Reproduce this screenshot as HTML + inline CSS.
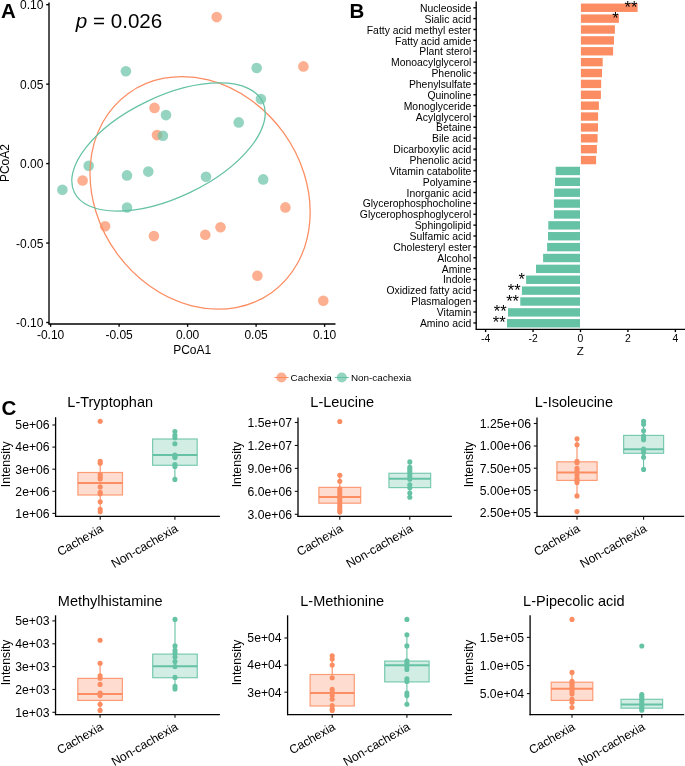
<!DOCTYPE html>
<html><head><meta charset="utf-8"><style>
html,body{margin:0;padding:0;background:#fff;}
svg{display:block;font-family:"Liberation Sans", sans-serif;will-change:transform;}
</style></head><body>
<svg width="685" height="766" viewBox="0 0 685 766">
<rect width="685" height="766" fill="#fff"/>
<text x="1.00" y="18.30" font-size="20.5" text-anchor="start" font-weight="bold" font-style="normal" fill="#000">A</text>
<circle cx="216.70" cy="17.10" r="5.3" fill="#FC8D62" fill-opacity="0.7"/>
<circle cx="303.40" cy="66.40" r="5.3" fill="#FC8D62" fill-opacity="0.7"/>
<circle cx="154.50" cy="107.90" r="5.3" fill="#FC8D62" fill-opacity="0.7"/>
<circle cx="157.00" cy="135.10" r="5.3" fill="#FC8D62" fill-opacity="0.7"/>
<circle cx="82.60" cy="180.50" r="5.3" fill="#FC8D62" fill-opacity="0.7"/>
<circle cx="285.40" cy="207.40" r="5.3" fill="#FC8D62" fill-opacity="0.7"/>
<circle cx="105.10" cy="226.30" r="5.3" fill="#FC8D62" fill-opacity="0.7"/>
<circle cx="153.90" cy="236.10" r="5.3" fill="#FC8D62" fill-opacity="0.7"/>
<circle cx="220.50" cy="227.30" r="5.3" fill="#FC8D62" fill-opacity="0.7"/>
<circle cx="205.30" cy="234.70" r="5.3" fill="#FC8D62" fill-opacity="0.7"/>
<circle cx="257.40" cy="275.80" r="5.3" fill="#FC8D62" fill-opacity="0.7"/>
<circle cx="323.30" cy="300.80" r="5.3" fill="#FC8D62" fill-opacity="0.7"/>
<circle cx="125.90" cy="71.30" r="5.3" fill="#66C2A5" fill-opacity="0.7"/>
<circle cx="256.70" cy="68.00" r="5.3" fill="#66C2A5" fill-opacity="0.7"/>
<circle cx="260.90" cy="99.10" r="5.3" fill="#66C2A5" fill-opacity="0.7"/>
<circle cx="166.00" cy="115.10" r="5.3" fill="#66C2A5" fill-opacity="0.7"/>
<circle cx="162.90" cy="135.70" r="5.3" fill="#66C2A5" fill-opacity="0.7"/>
<circle cx="238.70" cy="122.40" r="5.3" fill="#66C2A5" fill-opacity="0.7"/>
<circle cx="88.70" cy="165.80" r="5.3" fill="#66C2A5" fill-opacity="0.7"/>
<circle cx="62.40" cy="189.70" r="5.3" fill="#66C2A5" fill-opacity="0.7"/>
<circle cx="127.00" cy="175.40" r="5.3" fill="#66C2A5" fill-opacity="0.7"/>
<circle cx="148.30" cy="171.60" r="5.3" fill="#66C2A5" fill-opacity="0.7"/>
<circle cx="127.00" cy="207.50" r="5.3" fill="#66C2A5" fill-opacity="0.7"/>
<circle cx="206.00" cy="176.80" r="5.3" fill="#66C2A5" fill-opacity="0.7"/>
<circle cx="263.20" cy="179.40" r="5.3" fill="#66C2A5" fill-opacity="0.7"/>
<ellipse cx="200.09" cy="192.89" rx="122.69" ry="102.88" transform="rotate(54.19 200.09 192.89)" fill="none" stroke="#FC8D62" stroke-width="1.25"/>
<ellipse cx="168.5" cy="147.02" rx="104.5" ry="50.34" transform="rotate(-25.61 168.5 147.02)" fill="none" stroke="#66C2A5" stroke-width="1.25"/>
<line x1="49.00" y1="2.60" x2="49.00" y2="324.50" stroke="#000" stroke-width="1.35" />
<line x1="48.50" y1="324.00" x2="335.50" y2="324.00" stroke="#000" stroke-width="1.35" />
<line x1="46.20" y1="4.70" x2="49.00" y2="4.70" stroke="#000" stroke-width="1.35" />
<text x="43.40" y="9.40" font-size="12" text-anchor="end" font-weight="normal" font-style="normal" fill="#000">0.10</text>
<line x1="46.20" y1="84.15" x2="49.00" y2="84.15" stroke="#000" stroke-width="1.35" />
<text x="43.40" y="88.85" font-size="12" text-anchor="end" font-weight="normal" font-style="normal" fill="#000">0.05</text>
<line x1="46.20" y1="163.60" x2="49.00" y2="163.60" stroke="#000" stroke-width="1.35" />
<text x="43.40" y="168.30" font-size="12" text-anchor="end" font-weight="normal" font-style="normal" fill="#000">0.00</text>
<line x1="46.20" y1="243.05" x2="49.00" y2="243.05" stroke="#000" stroke-width="1.35" />
<text x="43.40" y="247.75" font-size="12" text-anchor="end" font-weight="normal" font-style="normal" fill="#000">-0.05</text>
<line x1="46.20" y1="322.50" x2="49.00" y2="322.50" stroke="#000" stroke-width="1.35" />
<text x="43.40" y="327.20" font-size="12" text-anchor="end" font-weight="normal" font-style="normal" fill="#000">-0.10</text>
<line x1="50.60" y1="324.00" x2="50.60" y2="326.80" stroke="#000" stroke-width="1.35" />
<text x="50.60" y="339.00" font-size="12" text-anchor="middle" font-weight="normal" font-style="normal" fill="#000">-0.10</text>
<line x1="119.10" y1="324.00" x2="119.10" y2="326.80" stroke="#000" stroke-width="1.35" />
<text x="119.10" y="339.00" font-size="12" text-anchor="middle" font-weight="normal" font-style="normal" fill="#000">-0.05</text>
<line x1="187.60" y1="324.00" x2="187.60" y2="326.80" stroke="#000" stroke-width="1.35" />
<text x="187.60" y="339.00" font-size="12" text-anchor="middle" font-weight="normal" font-style="normal" fill="#000">0.00</text>
<line x1="256.10" y1="324.00" x2="256.10" y2="326.80" stroke="#000" stroke-width="1.35" />
<text x="256.10" y="339.00" font-size="12" text-anchor="middle" font-weight="normal" font-style="normal" fill="#000">0.05</text>
<line x1="324.60" y1="324.00" x2="324.60" y2="326.80" stroke="#000" stroke-width="1.35" />
<text x="324.60" y="339.00" font-size="12" text-anchor="middle" font-weight="normal" font-style="normal" fill="#000">0.10</text>
<text x="192.20" y="354.30" font-size="12" text-anchor="middle" font-weight="normal" font-style="normal" fill="#000">PCoA1</text>
<text x="9.20" y="163.05" font-size="12" text-anchor="middle" font-weight="normal" font-style="normal" fill="#000" transform="rotate(-90 9.2 163.05)">PCoA2</text>
<text x="75.8" y="27.9" font-size="20.6" fill="#000"><tspan font-style="italic">p</tspan> = 0.026</text>
<text x="349.60" y="18.00" font-size="20.5" text-anchor="start" font-weight="bold" font-style="normal" fill="#000">B</text>
<rect x="580.9" y="3.55" width="56.70" height="8.4" fill="#FC8D62"/>
<line x1="473.40" y1="7.75" x2="476.20" y2="7.75" stroke="#000" stroke-width="1.35" />
<text x="471.30" y="12.05" font-size="10.4" text-anchor="end" font-weight="normal" font-style="normal" fill="#000">Nucleoside</text>
<text x="637.40" y="12.75" font-size="16.5" text-anchor="end" font-weight="normal" font-style="normal" fill="#000">**</text>
<rect x="580.9" y="14.43" width="38.00" height="8.4" fill="#FC8D62"/>
<line x1="473.40" y1="18.62" x2="476.20" y2="18.62" stroke="#000" stroke-width="1.35" />
<text x="471.30" y="22.91" font-size="10.4" text-anchor="end" font-weight="normal" font-style="normal" fill="#000">Sialic acid</text>
<text x="618.70" y="23.63" font-size="16.5" text-anchor="end" font-weight="normal" font-style="normal" fill="#000">*</text>
<rect x="580.9" y="25.31" width="34.00" height="8.4" fill="#FC8D62"/>
<line x1="473.40" y1="29.49" x2="476.20" y2="29.49" stroke="#000" stroke-width="1.35" />
<text x="471.30" y="33.76" font-size="10.4" text-anchor="end" font-weight="normal" font-style="normal" fill="#000">Fatty acid methyl ester</text>
<rect x="580.9" y="36.19" width="33.10" height="8.4" fill="#FC8D62"/>
<line x1="473.40" y1="40.36" x2="476.20" y2="40.36" stroke="#000" stroke-width="1.35" />
<text x="471.30" y="44.62" font-size="10.4" text-anchor="end" font-weight="normal" font-style="normal" fill="#000">Fatty acid amide</text>
<rect x="580.9" y="47.07" width="32.20" height="8.4" fill="#FC8D62"/>
<line x1="473.40" y1="51.23" x2="476.20" y2="51.23" stroke="#000" stroke-width="1.35" />
<text x="471.30" y="55.47" font-size="10.4" text-anchor="end" font-weight="normal" font-style="normal" fill="#000">Plant sterol</text>
<rect x="580.9" y="57.95" width="21.80" height="8.4" fill="#FC8D62"/>
<line x1="473.40" y1="62.10" x2="476.20" y2="62.10" stroke="#000" stroke-width="1.35" />
<text x="471.30" y="66.33" font-size="10.4" text-anchor="end" font-weight="normal" font-style="normal" fill="#000">Monoacylglycerol</text>
<rect x="580.9" y="68.83" width="21.10" height="8.4" fill="#FC8D62"/>
<line x1="473.40" y1="72.97" x2="476.20" y2="72.97" stroke="#000" stroke-width="1.35" />
<text x="471.30" y="77.19" font-size="10.4" text-anchor="end" font-weight="normal" font-style="normal" fill="#000">Phenolic</text>
<rect x="580.9" y="79.71" width="20.30" height="8.4" fill="#FC8D62"/>
<line x1="473.40" y1="83.84" x2="476.20" y2="83.84" stroke="#000" stroke-width="1.35" />
<text x="471.30" y="88.04" font-size="10.4" text-anchor="end" font-weight="normal" font-style="normal" fill="#000">Phenylsulfate</text>
<rect x="580.9" y="90.59" width="20.00" height="8.4" fill="#FC8D62"/>
<line x1="473.40" y1="94.71" x2="476.20" y2="94.71" stroke="#000" stroke-width="1.35" />
<text x="471.30" y="98.90" font-size="10.4" text-anchor="end" font-weight="normal" font-style="normal" fill="#000">Quinoline</text>
<rect x="580.9" y="101.47" width="18.00" height="8.4" fill="#FC8D62"/>
<line x1="473.40" y1="105.58" x2="476.20" y2="105.58" stroke="#000" stroke-width="1.35" />
<text x="471.30" y="109.75" font-size="10.4" text-anchor="end" font-weight="normal" font-style="normal" fill="#000">Monoglyceride</text>
<rect x="580.9" y="112.35" width="17.20" height="8.4" fill="#FC8D62"/>
<line x1="473.40" y1="116.45" x2="476.20" y2="116.45" stroke="#000" stroke-width="1.35" />
<text x="471.30" y="120.61" font-size="10.4" text-anchor="end" font-weight="normal" font-style="normal" fill="#000">Acylglycerol</text>
<rect x="580.9" y="123.23" width="17.10" height="8.4" fill="#FC8D62"/>
<line x1="473.40" y1="127.32" x2="476.20" y2="127.32" stroke="#000" stroke-width="1.35" />
<text x="471.30" y="131.46" font-size="10.4" text-anchor="end" font-weight="normal" font-style="normal" fill="#000">Betaine</text>
<rect x="580.9" y="134.11" width="16.70" height="8.4" fill="#FC8D62"/>
<line x1="473.40" y1="138.19" x2="476.20" y2="138.19" stroke="#000" stroke-width="1.35" />
<text x="471.30" y="142.32" font-size="10.4" text-anchor="end" font-weight="normal" font-style="normal" fill="#000">Bile acid</text>
<rect x="580.9" y="144.99" width="16.00" height="8.4" fill="#FC8D62"/>
<line x1="473.40" y1="149.06" x2="476.20" y2="149.06" stroke="#000" stroke-width="1.35" />
<text x="471.30" y="153.18" font-size="10.4" text-anchor="end" font-weight="normal" font-style="normal" fill="#000">Dicarboxylic acid</text>
<rect x="580.9" y="155.87" width="15.20" height="8.4" fill="#FC8D62"/>
<line x1="473.40" y1="159.93" x2="476.20" y2="159.93" stroke="#000" stroke-width="1.35" />
<text x="471.30" y="164.03" font-size="10.4" text-anchor="end" font-weight="normal" font-style="normal" fill="#000">Phenolic acid</text>
<rect x="555.70" y="166.75" width="24.30" height="8.4" fill="#66C2A5"/>
<line x1="473.40" y1="170.79" x2="476.20" y2="170.79" stroke="#000" stroke-width="1.35" />
<text x="471.30" y="174.89" font-size="10.4" text-anchor="end" font-weight="normal" font-style="normal" fill="#000">Vitamin catabolite</text>
<rect x="555.00" y="177.63" width="25.00" height="8.4" fill="#66C2A5"/>
<line x1="473.40" y1="181.66" x2="476.20" y2="181.66" stroke="#000" stroke-width="1.35" />
<text x="471.30" y="185.74" font-size="10.4" text-anchor="end" font-weight="normal" font-style="normal" fill="#000">Polyamine</text>
<rect x="554.10" y="188.51" width="25.90" height="8.4" fill="#66C2A5"/>
<line x1="473.40" y1="192.53" x2="476.20" y2="192.53" stroke="#000" stroke-width="1.35" />
<text x="471.30" y="196.60" font-size="10.4" text-anchor="end" font-weight="normal" font-style="normal" fill="#000">Inorganic acid</text>
<rect x="553.90" y="199.39" width="26.10" height="8.4" fill="#66C2A5"/>
<line x1="473.40" y1="203.40" x2="476.20" y2="203.40" stroke="#000" stroke-width="1.35" />
<text x="471.30" y="207.46" font-size="10.4" text-anchor="end" font-weight="normal" font-style="normal" fill="#000">Glycerophosphocholine</text>
<rect x="553.90" y="210.27" width="26.10" height="8.4" fill="#66C2A5"/>
<line x1="473.40" y1="214.27" x2="476.20" y2="214.27" stroke="#000" stroke-width="1.35" />
<text x="471.30" y="218.31" font-size="10.4" text-anchor="end" font-weight="normal" font-style="normal" fill="#000">Glycerophosphoglycerol</text>
<rect x="548.30" y="221.15" width="31.70" height="8.4" fill="#66C2A5"/>
<line x1="473.40" y1="225.14" x2="476.20" y2="225.14" stroke="#000" stroke-width="1.35" />
<text x="471.30" y="229.17" font-size="10.4" text-anchor="end" font-weight="normal" font-style="normal" fill="#000">Sphingolipid</text>
<rect x="548.00" y="232.03" width="32.00" height="8.4" fill="#66C2A5"/>
<line x1="473.40" y1="236.01" x2="476.20" y2="236.01" stroke="#000" stroke-width="1.35" />
<text x="471.30" y="240.02" font-size="10.4" text-anchor="end" font-weight="normal" font-style="normal" fill="#000">Sulfamic acid</text>
<rect x="547.10" y="242.91" width="32.90" height="8.4" fill="#66C2A5"/>
<line x1="473.40" y1="246.88" x2="476.20" y2="246.88" stroke="#000" stroke-width="1.35" />
<text x="471.30" y="250.88" font-size="10.4" text-anchor="end" font-weight="normal" font-style="normal" fill="#000">Cholesteryl ester</text>
<rect x="543.10" y="253.79" width="36.90" height="8.4" fill="#66C2A5"/>
<line x1="473.40" y1="257.75" x2="476.20" y2="257.75" stroke="#000" stroke-width="1.35" />
<text x="471.30" y="261.73" font-size="10.4" text-anchor="end" font-weight="normal" font-style="normal" fill="#000">Alcohol</text>
<rect x="536.00" y="264.67" width="44.00" height="8.4" fill="#66C2A5"/>
<line x1="473.40" y1="268.62" x2="476.20" y2="268.62" stroke="#000" stroke-width="1.35" />
<text x="471.30" y="272.59" font-size="10.4" text-anchor="end" font-weight="normal" font-style="normal" fill="#000">Amine</text>
<rect x="526.10" y="275.55" width="53.90" height="8.4" fill="#66C2A5"/>
<line x1="473.40" y1="279.49" x2="476.20" y2="279.49" stroke="#000" stroke-width="1.35" />
<text x="471.30" y="283.45" font-size="10.4" text-anchor="end" font-weight="normal" font-style="normal" fill="#000">Indole</text>
<text x="524.80" y="284.75" font-size="16.5" text-anchor="end" font-weight="normal" font-style="normal" fill="#000">*</text>
<rect x="521.90" y="286.43" width="58.10" height="8.4" fill="#66C2A5"/>
<line x1="473.40" y1="290.36" x2="476.20" y2="290.36" stroke="#000" stroke-width="1.35" />
<text x="471.30" y="294.30" font-size="10.4" text-anchor="end" font-weight="normal" font-style="normal" fill="#000">Oxidized fatty acid</text>
<text x="520.60" y="295.63" font-size="16.5" text-anchor="end" font-weight="normal" font-style="normal" fill="#000">**</text>
<rect x="520.30" y="297.31" width="59.70" height="8.4" fill="#66C2A5"/>
<line x1="473.40" y1="301.23" x2="476.20" y2="301.23" stroke="#000" stroke-width="1.35" />
<text x="471.30" y="305.16" font-size="10.4" text-anchor="end" font-weight="normal" font-style="normal" fill="#000">Plasmalogen</text>
<text x="519.00" y="306.51" font-size="16.5" text-anchor="end" font-weight="normal" font-style="normal" fill="#000">**</text>
<rect x="508.00" y="308.19" width="72.00" height="8.4" fill="#66C2A5"/>
<line x1="473.40" y1="312.10" x2="476.20" y2="312.10" stroke="#000" stroke-width="1.35" />
<text x="471.30" y="316.01" font-size="10.4" text-anchor="end" font-weight="normal" font-style="normal" fill="#000">Vitamin</text>
<text x="506.70" y="317.39" font-size="16.5" text-anchor="end" font-weight="normal" font-style="normal" fill="#000">**</text>
<rect x="507.00" y="319.07" width="73.00" height="8.4" fill="#66C2A5"/>
<line x1="473.40" y1="322.97" x2="476.20" y2="322.97" stroke="#000" stroke-width="1.35" />
<text x="471.30" y="326.87" font-size="10.4" text-anchor="end" font-weight="normal" font-style="normal" fill="#000">Amino acid</text>
<text x="505.70" y="328.27" font-size="16.5" text-anchor="end" font-weight="normal" font-style="normal" fill="#000">**</text>
<line x1="476.20" y1="1.40" x2="476.20" y2="329.80" stroke="#000" stroke-width="1.35" />
<line x1="475.70" y1="329.30" x2="685.00" y2="329.30" stroke="#000" stroke-width="1.35" />
<line x1="485.62" y1="329.30" x2="485.62" y2="332.10" stroke="#000" stroke-width="1.35" />
<text x="485.62" y="341.90" font-size="10.4" text-anchor="middle" font-weight="normal" font-style="normal" fill="#000">-4</text>
<line x1="533.06" y1="329.30" x2="533.06" y2="332.10" stroke="#000" stroke-width="1.35" />
<text x="533.06" y="341.90" font-size="10.4" text-anchor="middle" font-weight="normal" font-style="normal" fill="#000">-2</text>
<line x1="580.50" y1="329.30" x2="580.50" y2="332.10" stroke="#000" stroke-width="1.35" />
<text x="580.50" y="341.90" font-size="10.4" text-anchor="middle" font-weight="normal" font-style="normal" fill="#000">0</text>
<line x1="627.94" y1="329.30" x2="627.94" y2="332.10" stroke="#000" stroke-width="1.35" />
<text x="627.94" y="341.90" font-size="10.4" text-anchor="middle" font-weight="normal" font-style="normal" fill="#000">2</text>
<line x1="675.38" y1="329.30" x2="675.38" y2="332.10" stroke="#000" stroke-width="1.35" />
<text x="675.38" y="341.90" font-size="10.4" text-anchor="middle" font-weight="normal" font-style="normal" fill="#000">4</text>
<text x="580.40" y="354.80" font-size="11.6" text-anchor="middle" font-weight="normal" font-style="normal" fill="#000">Z</text>
<line x1="274.50" y1="377.50" x2="288.50" y2="377.50" stroke="#FC8D62" stroke-width="1.1" />
<circle cx="281.5" cy="377.5" r="5.1" fill="#FC8D62" fill-opacity="0.7"/>
<text x="290.60" y="380.90" font-size="9.9" text-anchor="start" font-weight="normal" font-style="normal" fill="#000">Cachexia</text>
<line x1="334.80" y1="377.50" x2="348.80" y2="377.50" stroke="#66C2A5" stroke-width="1.1" />
<circle cx="341.8" cy="377.5" r="5.1" fill="#66C2A5" fill-opacity="0.7"/>
<text x="350.90" y="380.90" font-size="9.9" text-anchor="start" font-weight="normal" font-style="normal" fill="#000">Non-cachexia</text>
<text x="1.60" y="415.00" font-size="20.5" text-anchor="start" font-weight="bold" font-style="normal" fill="#000">C</text>
<line x1="55.60" y1="417.20" x2="55.60" y2="517.00" stroke="#000" stroke-width="1.3" />
<line x1="55.00" y1="516.45" x2="219.90" y2="516.45" stroke="#000" stroke-width="1.3" />
<line x1="52.40" y1="425.00" x2="55.60" y2="425.00" stroke="#111" stroke-width="1.1" />
<text x="49.60" y="429.30" font-size="12.2" text-anchor="end" font-weight="normal" font-style="normal" fill="#000">5e+06</text>
<line x1="52.40" y1="447.10" x2="55.60" y2="447.10" stroke="#111" stroke-width="1.1" />
<text x="49.60" y="451.40" font-size="12.2" text-anchor="end" font-weight="normal" font-style="normal" fill="#000">4e+06</text>
<line x1="52.40" y1="469.20" x2="55.60" y2="469.20" stroke="#111" stroke-width="1.1" />
<text x="49.60" y="473.50" font-size="12.2" text-anchor="end" font-weight="normal" font-style="normal" fill="#000">3e+06</text>
<line x1="52.40" y1="491.30" x2="55.60" y2="491.30" stroke="#111" stroke-width="1.1" />
<text x="49.60" y="495.60" font-size="12.2" text-anchor="end" font-weight="normal" font-style="normal" fill="#000">2e+06</text>
<line x1="52.40" y1="513.40" x2="55.60" y2="513.40" stroke="#111" stroke-width="1.1" />
<text x="49.60" y="517.70" font-size="12.2" text-anchor="end" font-weight="normal" font-style="normal" fill="#000">1e+06</text>
<line x1="100.20" y1="516.45" x2="100.20" y2="519.65" stroke="#111" stroke-width="1.1" />
<line x1="174.90" y1="516.45" x2="174.90" y2="519.65" stroke="#111" stroke-width="1.1" />
<line x1="100.20" y1="461.30" x2="100.20" y2="472.50" stroke="#FC8D62" stroke-width="1.1" />
<line x1="100.20" y1="495.00" x2="100.20" y2="511.70" stroke="#FC8D62" stroke-width="1.1" />
<rect x="77.90" y="472.50" width="44.60" height="22.50" fill="#FC8D62" fill-opacity="0.3" stroke="#FC8D62" stroke-opacity="0.85" stroke-width="1.2"/>
<line x1="77.90" y1="482.90" x2="122.50" y2="482.90" stroke="#FC8D62" stroke-width="2.0" />
<circle cx="100.20" cy="421.3" r="2.55" fill="#FC8D62"/>
<circle cx="100.20" cy="461.3" r="2.55" fill="#FC8D62"/>
<circle cx="100.20" cy="463.3" r="2.55" fill="#FC8D62"/>
<circle cx="100.20" cy="474.5" r="2.55" fill="#FC8D62"/>
<circle cx="100.20" cy="476.9" r="2.55" fill="#FC8D62"/>
<circle cx="100.20" cy="478.9" r="2.55" fill="#FC8D62"/>
<circle cx="100.20" cy="486.9" r="2.55" fill="#FC8D62"/>
<circle cx="100.20" cy="492.3" r="2.55" fill="#FC8D62"/>
<circle cx="100.20" cy="493.8" r="2.55" fill="#FC8D62"/>
<circle cx="100.20" cy="501.8" r="2.55" fill="#FC8D62"/>
<circle cx="100.20" cy="509.2" r="2.55" fill="#FC8D62"/>
<circle cx="100.20" cy="511.7" r="2.55" fill="#FC8D62"/>
<line x1="174.90" y1="431.50" x2="174.90" y2="439.00" stroke="#66C2A5" stroke-width="1.1" />
<line x1="174.90" y1="465.30" x2="174.90" y2="479.40" stroke="#66C2A5" stroke-width="1.1" />
<rect x="152.60" y="439.00" width="44.60" height="26.30" fill="#66C2A5" fill-opacity="0.3" stroke="#66C2A5" stroke-opacity="0.85" stroke-width="1.2"/>
<line x1="152.60" y1="455.10" x2="197.20" y2="455.10" stroke="#66C2A5" stroke-width="2.0" />
<circle cx="174.90" cy="431.5" r="2.55" fill="#66C2A5"/>
<circle cx="174.90" cy="435.2" r="2.55" fill="#66C2A5"/>
<circle cx="174.90" cy="437.7" r="2.55" fill="#66C2A5"/>
<circle cx="174.90" cy="443.7" r="2.55" fill="#66C2A5"/>
<circle cx="174.90" cy="455.1" r="2.55" fill="#66C2A5"/>
<circle cx="174.90" cy="456.6" r="2.55" fill="#66C2A5"/>
<circle cx="174.90" cy="457.6" r="2.55" fill="#66C2A5"/>
<circle cx="174.90" cy="464.5" r="2.55" fill="#66C2A5"/>
<circle cx="174.90" cy="466.5" r="2.55" fill="#66C2A5"/>
<circle cx="174.90" cy="479.4" r="2.55" fill="#66C2A5"/>
<line x1="298.00" y1="417.40" x2="298.00" y2="517.00" stroke="#000" stroke-width="1.3" />
<line x1="297.40" y1="516.45" x2="451.90" y2="516.45" stroke="#000" stroke-width="1.3" />
<line x1="294.80" y1="422.50" x2="298.00" y2="422.50" stroke="#111" stroke-width="1.1" />
<text x="292.00" y="426.80" font-size="12.2" text-anchor="end" font-weight="normal" font-style="normal" fill="#000">1.5e+07</text>
<line x1="294.80" y1="445.45" x2="298.00" y2="445.45" stroke="#111" stroke-width="1.1" />
<text x="292.00" y="449.75" font-size="12.2" text-anchor="end" font-weight="normal" font-style="normal" fill="#000">1.2e+07</text>
<line x1="294.80" y1="468.40" x2="298.00" y2="468.40" stroke="#111" stroke-width="1.1" />
<text x="292.00" y="472.70" font-size="12.2" text-anchor="end" font-weight="normal" font-style="normal" fill="#000">9.0e+06</text>
<line x1="294.80" y1="491.35" x2="298.00" y2="491.35" stroke="#111" stroke-width="1.1" />
<text x="292.00" y="495.65" font-size="12.2" text-anchor="end" font-weight="normal" font-style="normal" fill="#000">6.0e+06</text>
<line x1="294.80" y1="514.30" x2="298.00" y2="514.30" stroke="#111" stroke-width="1.1" />
<text x="292.00" y="518.60" font-size="12.2" text-anchor="end" font-weight="normal" font-style="normal" fill="#000">3.0e+06</text>
<line x1="339.80" y1="516.45" x2="339.80" y2="519.65" stroke="#111" stroke-width="1.1" />
<line x1="409.80" y1="516.45" x2="409.80" y2="519.65" stroke="#111" stroke-width="1.1" />
<line x1="339.80" y1="475.20" x2="339.80" y2="487.40" stroke="#FC8D62" stroke-width="1.1" />
<line x1="339.80" y1="503.20" x2="339.80" y2="512.10" stroke="#FC8D62" stroke-width="1.1" />
<rect x="318.90" y="487.40" width="41.80" height="15.80" fill="#FC8D62" fill-opacity="0.3" stroke="#FC8D62" stroke-opacity="0.85" stroke-width="1.2"/>
<line x1="318.90" y1="496.90" x2="360.70" y2="496.90" stroke="#FC8D62" stroke-width="2.0" />
<circle cx="339.80" cy="421.5" r="2.55" fill="#FC8D62"/>
<circle cx="339.80" cy="475.2" r="2.55" fill="#FC8D62"/>
<circle cx="339.80" cy="481.3" r="2.55" fill="#FC8D62"/>
<circle cx="339.80" cy="488.8" r="2.55" fill="#FC8D62"/>
<circle cx="339.80" cy="491" r="2.55" fill="#FC8D62"/>
<circle cx="339.80" cy="493.5" r="2.55" fill="#FC8D62"/>
<circle cx="339.80" cy="496" r="2.55" fill="#FC8D62"/>
<circle cx="339.80" cy="498.5" r="2.55" fill="#FC8D62"/>
<circle cx="339.80" cy="501" r="2.55" fill="#FC8D62"/>
<circle cx="339.80" cy="503.5" r="2.55" fill="#FC8D62"/>
<circle cx="339.80" cy="506" r="2.55" fill="#FC8D62"/>
<circle cx="339.80" cy="508.5" r="2.55" fill="#FC8D62"/>
<circle cx="339.80" cy="510.5" r="2.55" fill="#FC8D62"/>
<circle cx="339.80" cy="512.1" r="2.55" fill="#FC8D62"/>
<line x1="409.80" y1="461.90" x2="409.80" y2="473.30" stroke="#66C2A5" stroke-width="1.1" />
<line x1="409.80" y1="487.60" x2="409.80" y2="497.60" stroke="#66C2A5" stroke-width="1.1" />
<rect x="388.95" y="473.30" width="41.70" height="14.30" fill="#66C2A5" fill-opacity="0.3" stroke="#66C2A5" stroke-opacity="0.85" stroke-width="1.2"/>
<line x1="388.95" y1="478.70" x2="430.65" y2="478.70" stroke="#66C2A5" stroke-width="2.0" />
<circle cx="409.80" cy="461.9" r="2.55" fill="#66C2A5"/>
<circle cx="409.80" cy="467.3" r="2.55" fill="#66C2A5"/>
<circle cx="409.80" cy="469.5" r="2.55" fill="#66C2A5"/>
<circle cx="409.80" cy="471.8" r="2.55" fill="#66C2A5"/>
<circle cx="409.80" cy="474.0" r="2.55" fill="#66C2A5"/>
<circle cx="409.80" cy="476.7" r="2.55" fill="#66C2A5"/>
<circle cx="409.80" cy="479.3" r="2.55" fill="#66C2A5"/>
<circle cx="409.80" cy="484.8" r="2.55" fill="#66C2A5"/>
<circle cx="409.80" cy="487.8" r="2.55" fill="#66C2A5"/>
<circle cx="409.80" cy="493.0" r="2.55" fill="#66C2A5"/>
<circle cx="409.80" cy="497.3" r="2.55" fill="#66C2A5"/>
<line x1="537.00" y1="417.40" x2="537.00" y2="517.00" stroke="#000" stroke-width="1.3" />
<line x1="536.40" y1="516.45" x2="684.20" y2="516.45" stroke="#000" stroke-width="1.3" />
<line x1="533.80" y1="423.50" x2="537.00" y2="423.50" stroke="#111" stroke-width="1.1" />
<text x="531.00" y="427.80" font-size="12.2" text-anchor="end" font-weight="normal" font-style="normal" fill="#000">1.25e+06</text>
<line x1="533.80" y1="446.00" x2="537.00" y2="446.00" stroke="#111" stroke-width="1.1" />
<text x="531.00" y="450.30" font-size="12.2" text-anchor="end" font-weight="normal" font-style="normal" fill="#000">1.00e+06</text>
<line x1="533.80" y1="468.20" x2="537.00" y2="468.20" stroke="#111" stroke-width="1.1" />
<text x="531.00" y="472.50" font-size="12.2" text-anchor="end" font-weight="normal" font-style="normal" fill="#000">7.50e+05</text>
<line x1="533.80" y1="490.30" x2="537.00" y2="490.30" stroke="#111" stroke-width="1.1" />
<text x="531.00" y="494.60" font-size="12.2" text-anchor="end" font-weight="normal" font-style="normal" fill="#000">5.00e+05</text>
<line x1="533.80" y1="512.60" x2="537.00" y2="512.60" stroke="#111" stroke-width="1.1" />
<text x="531.00" y="516.90" font-size="12.2" text-anchor="end" font-weight="normal" font-style="normal" fill="#000">2.50e+05</text>
<line x1="577.00" y1="516.45" x2="577.00" y2="519.65" stroke="#111" stroke-width="1.1" />
<line x1="643.60" y1="516.45" x2="643.60" y2="519.65" stroke="#111" stroke-width="1.1" />
<line x1="577.00" y1="438.70" x2="577.00" y2="461.80" stroke="#FC8D62" stroke-width="1.1" />
<line x1="577.00" y1="480.40" x2="577.00" y2="495.90" stroke="#FC8D62" stroke-width="1.1" />
<rect x="556.90" y="461.80" width="40.20" height="18.60" fill="#FC8D62" fill-opacity="0.3" stroke="#FC8D62" stroke-opacity="0.85" stroke-width="1.2"/>
<line x1="556.90" y1="472.60" x2="597.10" y2="472.60" stroke="#FC8D62" stroke-width="2.0" />
<circle cx="577.00" cy="438.7" r="2.55" fill="#FC8D62"/>
<circle cx="577.00" cy="444.7" r="2.55" fill="#FC8D62"/>
<circle cx="577.00" cy="461.4" r="2.55" fill="#FC8D62"/>
<circle cx="577.00" cy="462.7" r="2.55" fill="#FC8D62"/>
<circle cx="577.00" cy="468.4" r="2.55" fill="#FC8D62"/>
<circle cx="577.00" cy="470.9" r="2.55" fill="#FC8D62"/>
<circle cx="577.00" cy="475.1" r="2.55" fill="#FC8D62"/>
<circle cx="577.00" cy="478.3" r="2.55" fill="#FC8D62"/>
<circle cx="577.00" cy="480.4" r="2.55" fill="#FC8D62"/>
<circle cx="577.00" cy="482.6" r="2.55" fill="#FC8D62"/>
<circle cx="577.00" cy="495.9" r="2.55" fill="#FC8D62"/>
<circle cx="577.00" cy="511.6" r="2.55" fill="#FC8D62"/>
<line x1="643.60" y1="421.20" x2="643.60" y2="435.40" stroke="#66C2A5" stroke-width="1.1" />
<line x1="643.60" y1="453.30" x2="643.60" y2="469.90" stroke="#66C2A5" stroke-width="1.1" />
<rect x="623.60" y="435.40" width="40.00" height="17.90" fill="#66C2A5" fill-opacity="0.3" stroke="#66C2A5" stroke-opacity="0.85" stroke-width="1.2"/>
<line x1="623.60" y1="449.30" x2="663.60" y2="449.30" stroke="#66C2A5" stroke-width="2.0" />
<circle cx="643.60" cy="421.2" r="2.55" fill="#66C2A5"/>
<circle cx="643.60" cy="424.3" r="2.55" fill="#66C2A5"/>
<circle cx="643.60" cy="430.7" r="2.55" fill="#66C2A5"/>
<circle cx="643.60" cy="436" r="2.55" fill="#66C2A5"/>
<circle cx="643.60" cy="438.1" r="2.55" fill="#66C2A5"/>
<circle cx="643.60" cy="439.8" r="2.55" fill="#66C2A5"/>
<circle cx="643.60" cy="449.1" r="2.55" fill="#66C2A5"/>
<circle cx="643.60" cy="450.8" r="2.55" fill="#66C2A5"/>
<circle cx="643.60" cy="452.5" r="2.55" fill="#66C2A5"/>
<circle cx="643.60" cy="457.2" r="2.55" fill="#66C2A5"/>
<circle cx="643.60" cy="469.4" r="2.55" fill="#66C2A5"/>
<line x1="55.55" y1="615.30" x2="55.55" y2="715.15" stroke="#000" stroke-width="1.3" />
<line x1="54.95" y1="714.60" x2="219.90" y2="714.60" stroke="#000" stroke-width="1.3" />
<line x1="52.35" y1="620.90" x2="55.55" y2="620.90" stroke="#111" stroke-width="1.1" />
<text x="49.55" y="625.20" font-size="12.2" text-anchor="end" font-weight="normal" font-style="normal" fill="#000">5e+03</text>
<line x1="52.35" y1="643.80" x2="55.55" y2="643.80" stroke="#111" stroke-width="1.1" />
<text x="49.55" y="648.10" font-size="12.2" text-anchor="end" font-weight="normal" font-style="normal" fill="#000">4e+03</text>
<line x1="52.35" y1="666.60" x2="55.55" y2="666.60" stroke="#111" stroke-width="1.1" />
<text x="49.55" y="670.90" font-size="12.2" text-anchor="end" font-weight="normal" font-style="normal" fill="#000">3e+03</text>
<line x1="52.35" y1="689.45" x2="55.55" y2="689.45" stroke="#111" stroke-width="1.1" />
<text x="49.55" y="693.75" font-size="12.2" text-anchor="end" font-weight="normal" font-style="normal" fill="#000">2e+03</text>
<line x1="52.35" y1="712.30" x2="55.55" y2="712.30" stroke="#111" stroke-width="1.1" />
<text x="49.55" y="716.60" font-size="12.2" text-anchor="end" font-weight="normal" font-style="normal" fill="#000">1e+03</text>
<line x1="100.10" y1="714.60" x2="100.10" y2="717.80" stroke="#111" stroke-width="1.1" />
<line x1="175.00" y1="714.60" x2="175.00" y2="717.80" stroke="#111" stroke-width="1.1" />
<line x1="100.10" y1="663.30" x2="100.10" y2="678.40" stroke="#FC8D62" stroke-width="1.1" />
<line x1="100.10" y1="700.40" x2="100.10" y2="710.40" stroke="#FC8D62" stroke-width="1.1" />
<rect x="77.80" y="678.40" width="44.60" height="22.00" fill="#FC8D62" fill-opacity="0.3" stroke="#FC8D62" stroke-opacity="0.85" stroke-width="1.2"/>
<line x1="77.80" y1="694.10" x2="122.40" y2="694.10" stroke="#FC8D62" stroke-width="2.0" />
<circle cx="100.10" cy="640.2" r="2.55" fill="#FC8D62"/>
<circle cx="100.10" cy="663.3" r="2.55" fill="#FC8D62"/>
<circle cx="100.10" cy="675.7" r="2.55" fill="#FC8D62"/>
<circle cx="100.10" cy="678.2" r="2.55" fill="#FC8D62"/>
<circle cx="100.10" cy="684.4" r="2.55" fill="#FC8D62"/>
<circle cx="100.10" cy="693.1" r="2.55" fill="#FC8D62"/>
<circle cx="100.10" cy="695.6" r="2.55" fill="#FC8D62"/>
<circle cx="100.10" cy="704.2" r="2.55" fill="#FC8D62"/>
<circle cx="100.10" cy="710.4" r="2.55" fill="#FC8D62"/>
<line x1="175.00" y1="619.40" x2="175.00" y2="654.10" stroke="#66C2A5" stroke-width="1.1" />
<line x1="175.00" y1="677.70" x2="175.00" y2="688.90" stroke="#66C2A5" stroke-width="1.1" />
<rect x="152.70" y="654.10" width="44.60" height="23.60" fill="#66C2A5" fill-opacity="0.3" stroke="#66C2A5" stroke-opacity="0.85" stroke-width="1.2"/>
<line x1="152.70" y1="666.30" x2="197.30" y2="666.30" stroke="#66C2A5" stroke-width="2.0" />
<circle cx="175.00" cy="619.4" r="2.55" fill="#66C2A5"/>
<circle cx="175.00" cy="645.9" r="2.55" fill="#66C2A5"/>
<circle cx="175.00" cy="650.4" r="2.55" fill="#66C2A5"/>
<circle cx="175.00" cy="653.4" r="2.55" fill="#66C2A5"/>
<circle cx="175.00" cy="657.1" r="2.55" fill="#66C2A5"/>
<circle cx="175.00" cy="661.6" r="2.55" fill="#66C2A5"/>
<circle cx="175.00" cy="666.5" r="2.55" fill="#66C2A5"/>
<circle cx="175.00" cy="677.4" r="2.55" fill="#66C2A5"/>
<circle cx="175.00" cy="686.4" r="2.55" fill="#66C2A5"/>
<circle cx="175.00" cy="688.9" r="2.55" fill="#66C2A5"/>
<line x1="287.60" y1="615.30" x2="287.60" y2="715.15" stroke="#000" stroke-width="1.3" />
<line x1="287.00" y1="714.60" x2="451.90" y2="714.60" stroke="#000" stroke-width="1.3" />
<line x1="284.40" y1="638.00" x2="287.60" y2="638.00" stroke="#111" stroke-width="1.1" />
<text x="281.60" y="642.30" font-size="12.2" text-anchor="end" font-weight="normal" font-style="normal" fill="#000">5e+04</text>
<line x1="284.40" y1="665.10" x2="287.60" y2="665.10" stroke="#111" stroke-width="1.1" />
<text x="281.60" y="669.40" font-size="12.2" text-anchor="end" font-weight="normal" font-style="normal" fill="#000">4e+04</text>
<line x1="284.40" y1="692.20" x2="287.60" y2="692.20" stroke="#111" stroke-width="1.1" />
<text x="281.60" y="696.50" font-size="12.2" text-anchor="end" font-weight="normal" font-style="normal" fill="#000">3e+04</text>
<line x1="332.20" y1="714.60" x2="332.20" y2="717.80" stroke="#111" stroke-width="1.1" />
<line x1="406.90" y1="714.60" x2="406.90" y2="717.80" stroke="#111" stroke-width="1.1" />
<line x1="332.20" y1="655.80" x2="332.20" y2="674.50" stroke="#FC8D62" stroke-width="1.1" />
<line x1="332.20" y1="706.00" x2="332.20" y2="710.40" stroke="#FC8D62" stroke-width="1.1" />
<rect x="310.10" y="674.50" width="44.20" height="31.50" fill="#FC8D62" fill-opacity="0.3" stroke="#FC8D62" stroke-opacity="0.85" stroke-width="1.2"/>
<line x1="310.10" y1="693.10" x2="354.30" y2="693.10" stroke="#FC8D62" stroke-width="2.0" />
<circle cx="332.20" cy="655.8" r="2.55" fill="#FC8D62"/>
<circle cx="332.20" cy="659.1" r="2.55" fill="#FC8D62"/>
<circle cx="332.20" cy="665" r="2.55" fill="#FC8D62"/>
<circle cx="332.20" cy="677.7" r="2.55" fill="#FC8D62"/>
<circle cx="332.20" cy="689.4" r="2.55" fill="#FC8D62"/>
<circle cx="332.20" cy="692.3" r="2.55" fill="#FC8D62"/>
<circle cx="332.20" cy="695.6" r="2.55" fill="#FC8D62"/>
<circle cx="332.20" cy="699.3" r="2.55" fill="#FC8D62"/>
<circle cx="332.20" cy="705.5" r="2.55" fill="#FC8D62"/>
<circle cx="332.20" cy="708.7" r="2.55" fill="#FC8D62"/>
<circle cx="332.20" cy="710.4" r="2.55" fill="#FC8D62"/>
<line x1="406.90" y1="634.70" x2="406.90" y2="661.10" stroke="#66C2A5" stroke-width="1.1" />
<line x1="406.90" y1="681.90" x2="406.90" y2="704.20" stroke="#66C2A5" stroke-width="1.1" />
<rect x="384.70" y="661.10" width="44.40" height="20.80" fill="#66C2A5" fill-opacity="0.3" stroke="#66C2A5" stroke-opacity="0.85" stroke-width="1.2"/>
<line x1="384.70" y1="665.30" x2="429.10" y2="665.30" stroke="#66C2A5" stroke-width="2.0" />
<circle cx="406.90" cy="619.4" r="2.55" fill="#66C2A5"/>
<circle cx="406.90" cy="634.7" r="2.55" fill="#66C2A5"/>
<circle cx="406.90" cy="645.9" r="2.55" fill="#66C2A5"/>
<circle cx="406.90" cy="660.8" r="2.55" fill="#66C2A5"/>
<circle cx="406.90" cy="663.3" r="2.55" fill="#66C2A5"/>
<circle cx="406.90" cy="666.5" r="2.55" fill="#66C2A5"/>
<circle cx="406.90" cy="669.5" r="2.55" fill="#66C2A5"/>
<circle cx="406.90" cy="678.9" r="2.55" fill="#66C2A5"/>
<circle cx="406.90" cy="681.4" r="2.55" fill="#66C2A5"/>
<circle cx="406.90" cy="693.1" r="2.55" fill="#66C2A5"/>
<circle cx="406.90" cy="695.6" r="2.55" fill="#66C2A5"/>
<circle cx="406.90" cy="704.2" r="2.55" fill="#66C2A5"/>
<line x1="530.10" y1="615.30" x2="530.10" y2="715.15" stroke="#000" stroke-width="1.3" />
<line x1="529.50" y1="714.60" x2="684.20" y2="714.60" stroke="#000" stroke-width="1.3" />
<line x1="526.90" y1="637.40" x2="530.10" y2="637.40" stroke="#111" stroke-width="1.1" />
<text x="524.10" y="641.70" font-size="12.2" text-anchor="end" font-weight="normal" font-style="normal" fill="#000">1.5e+05</text>
<line x1="526.90" y1="665.60" x2="530.10" y2="665.60" stroke="#111" stroke-width="1.1" />
<text x="524.10" y="669.90" font-size="12.2" text-anchor="end" font-weight="normal" font-style="normal" fill="#000">1.0e+05</text>
<line x1="526.90" y1="693.60" x2="530.10" y2="693.60" stroke="#111" stroke-width="1.1" />
<text x="524.10" y="697.90" font-size="12.2" text-anchor="end" font-weight="normal" font-style="normal" fill="#000">5.0e+04</text>
<line x1="572.00" y1="714.60" x2="572.00" y2="717.80" stroke="#111" stroke-width="1.1" />
<line x1="641.80" y1="714.60" x2="641.80" y2="717.80" stroke="#111" stroke-width="1.1" />
<line x1="572.00" y1="672.40" x2="572.00" y2="682.20" stroke="#FC8D62" stroke-width="1.1" />
<line x1="572.00" y1="700.40" x2="572.00" y2="707.50" stroke="#FC8D62" stroke-width="1.1" />
<rect x="551.20" y="682.20" width="41.60" height="18.20" fill="#FC8D62" fill-opacity="0.3" stroke="#FC8D62" stroke-opacity="0.85" stroke-width="1.2"/>
<line x1="551.20" y1="688.80" x2="592.80" y2="688.80" stroke="#FC8D62" stroke-width="2.0" />
<circle cx="572.00" cy="619.4" r="2.55" fill="#FC8D62"/>
<circle cx="572.00" cy="672.4" r="2.55" fill="#FC8D62"/>
<circle cx="572.00" cy="681.3" r="2.55" fill="#FC8D62"/>
<circle cx="572.00" cy="682.9" r="2.55" fill="#FC8D62"/>
<circle cx="572.00" cy="684.6" r="2.55" fill="#FC8D62"/>
<circle cx="572.00" cy="686.9" r="2.55" fill="#FC8D62"/>
<circle cx="572.00" cy="689.2" r="2.55" fill="#FC8D62"/>
<circle cx="572.00" cy="691.6" r="2.55" fill="#FC8D62"/>
<circle cx="572.00" cy="693.9" r="2.55" fill="#FC8D62"/>
<circle cx="572.00" cy="699.3" r="2.55" fill="#FC8D62"/>
<circle cx="572.00" cy="702.3" r="2.55" fill="#FC8D62"/>
<circle cx="572.00" cy="707.5" r="2.55" fill="#FC8D62"/>
<line x1="641.80" y1="694.60" x2="641.80" y2="699.30" stroke="#66C2A5" stroke-width="1.1" />
<line x1="641.80" y1="708.20" x2="641.80" y2="710.30" stroke="#66C2A5" stroke-width="1.1" />
<rect x="621.00" y="699.30" width="41.60" height="8.90" fill="#66C2A5" fill-opacity="0.3" stroke="#66C2A5" stroke-opacity="0.85" stroke-width="1.2"/>
<line x1="621.00" y1="704.60" x2="662.60" y2="704.60" stroke="#66C2A5" stroke-width="2.0" />
<circle cx="641.80" cy="646" r="2.55" fill="#66C2A5"/>
<circle cx="641.80" cy="694.6" r="2.55" fill="#66C2A5"/>
<circle cx="641.80" cy="696.2" r="2.55" fill="#66C2A5"/>
<circle cx="641.80" cy="698.1" r="2.55" fill="#66C2A5"/>
<circle cx="641.80" cy="700.4" r="2.55" fill="#66C2A5"/>
<circle cx="641.80" cy="702.8" r="2.55" fill="#66C2A5"/>
<circle cx="641.80" cy="705.1" r="2.55" fill="#66C2A5"/>
<circle cx="641.80" cy="707" r="2.55" fill="#66C2A5"/>
<circle cx="641.80" cy="708.6" r="2.55" fill="#66C2A5"/>
<circle cx="641.80" cy="710.3" r="2.55" fill="#66C2A5"/>
<text x="110.20" y="406.80" font-size="14.5" text-anchor="middle" font-weight="normal" font-style="normal" fill="#000">L-Tryptophan</text>
<text x="9.60" y="464.33" font-size="12.3" text-anchor="middle" font-weight="normal" font-style="normal" fill="#000" transform="rotate(-90 9.60 464.33)">Intensity</text>
<text x="104.20" y="530.95" font-size="12.2" text-anchor="end" font-weight="normal" font-style="normal" fill="#000" transform="rotate(-30 104.20 530.95)">Cachexia</text>
<text x="178.90" y="530.95" font-size="12.2" text-anchor="end" font-weight="normal" font-style="normal" fill="#000" transform="rotate(-30 178.90 530.95)">Non-cachexia</text>
<text x="342.20" y="406.80" font-size="14.5" text-anchor="middle" font-weight="normal" font-style="normal" fill="#000">L-Leucine</text>
<text x="241.40" y="464.43" font-size="12.3" text-anchor="middle" font-weight="normal" font-style="normal" fill="#000" transform="rotate(-90 241.40 464.43)">Intensity</text>
<text x="343.80" y="530.95" font-size="12.2" text-anchor="end" font-weight="normal" font-style="normal" fill="#000" transform="rotate(-30 343.80 530.95)">Cachexia</text>
<text x="413.80" y="530.95" font-size="12.2" text-anchor="end" font-weight="normal" font-style="normal" fill="#000" transform="rotate(-30 413.80 530.95)">Non-cachexia</text>
<text x="573.90" y="406.80" font-size="14.5" text-anchor="middle" font-weight="normal" font-style="normal" fill="#000">L-Isoleucine</text>
<text x="473.50" y="464.43" font-size="12.3" text-anchor="middle" font-weight="normal" font-style="normal" fill="#000" transform="rotate(-90 473.50 464.43)">Intensity</text>
<text x="581.00" y="530.95" font-size="12.2" text-anchor="end" font-weight="normal" font-style="normal" fill="#000" transform="rotate(-30 581.00 530.95)">Cachexia</text>
<text x="647.60" y="530.95" font-size="12.2" text-anchor="end" font-weight="normal" font-style="normal" fill="#000" transform="rotate(-30 647.60 530.95)">Non-cachexia</text>
<text x="110.20" y="605.90" font-size="14.5" text-anchor="middle" font-weight="normal" font-style="normal" fill="#000">Methylhistamine</text>
<text x="9.60" y="662.45" font-size="12.3" text-anchor="middle" font-weight="normal" font-style="normal" fill="#000" transform="rotate(-90 9.60 662.45)">Intensity</text>
<text x="104.10" y="729.10" font-size="12.2" text-anchor="end" font-weight="normal" font-style="normal" fill="#000" transform="rotate(-30 104.10 729.10)">Cachexia</text>
<text x="179.00" y="729.10" font-size="12.2" text-anchor="end" font-weight="normal" font-style="normal" fill="#000" transform="rotate(-30 179.00 729.10)">Non-cachexia</text>
<text x="342.20" y="605.90" font-size="14.5" text-anchor="middle" font-weight="normal" font-style="normal" fill="#000">L-Methionine</text>
<text x="241.40" y="662.45" font-size="12.3" text-anchor="middle" font-weight="normal" font-style="normal" fill="#000" transform="rotate(-90 241.40 662.45)">Intensity</text>
<text x="336.20" y="729.10" font-size="12.2" text-anchor="end" font-weight="normal" font-style="normal" fill="#000" transform="rotate(-30 336.20 729.10)">Cachexia</text>
<text x="410.90" y="729.10" font-size="12.2" text-anchor="end" font-weight="normal" font-style="normal" fill="#000" transform="rotate(-30 410.90 729.10)">Non-cachexia</text>
<text x="573.90" y="605.90" font-size="14.5" text-anchor="middle" font-weight="normal" font-style="normal" fill="#000">L-Pipecolic acid</text>
<text x="473.50" y="662.45" font-size="12.3" text-anchor="middle" font-weight="normal" font-style="normal" fill="#000" transform="rotate(-90 473.50 662.45)">Intensity</text>
<text x="576.00" y="729.10" font-size="12.2" text-anchor="end" font-weight="normal" font-style="normal" fill="#000" transform="rotate(-30 576.00 729.10)">Cachexia</text>
<text x="645.80" y="729.10" font-size="12.2" text-anchor="end" font-weight="normal" font-style="normal" fill="#000" transform="rotate(-30 645.80 729.10)">Non-cachexia</text>
</svg>
</body></html>
